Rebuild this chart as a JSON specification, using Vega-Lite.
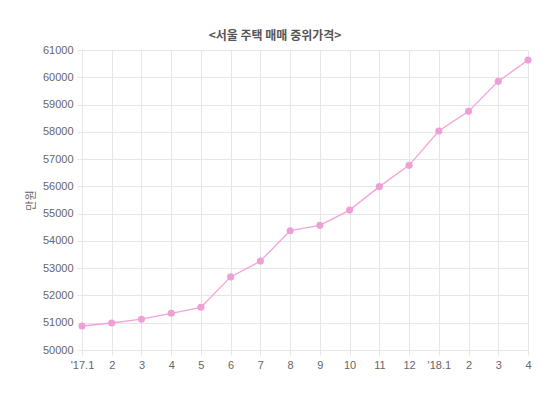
{
  "$schema": "https://vega.github.io/schema/vega-lite/v6.json",
  "width": 446,
  "height": 300,
  "autosize": "none",
  "padding": {"left": 82, "top": 50, "right": 22, "bottom": 45},
  "background": "white",
  "title": {
    "text": "<서울 주택 매매 중위가격>",
    "fontSize": 12,
    "font": "Noto Sans CJK KR",
    "fontWeight": "bold",
    "color": "#555555",
    "offset": 1,
    "dx": -30
  },
  "config": {
    "view": {"stroke": null},
    "axis": {
      "labelFont": "Liberation Sans",
      "labelFontSize": 11,
      "labelColor": "#666666",
      "gridColor": "#e6e6e6",
      "tickColor": "#e6e6e6",
      "domainColor": "#e6e6e6",
      "tickSize": 5
    }
  },
  "data": {
    "values": [
      {"month": "2017-01", "price": 50880},
      {"month": "2017-02", "price": 50990},
      {"month": "2017-03", "price": 51130},
      {"month": "2017-04", "price": 51345},
      {"month": "2017-05", "price": 51566},
      {"month": "2017-06", "price": 52680},
      {"month": "2017-07", "price": 53260},
      {"month": "2017-08", "price": 54375},
      {"month": "2017-09", "price": 54570},
      {"month": "2017-10", "price": 55130},
      {"month": "2017-11", "price": 55990},
      {"month": "2017-12", "price": 56770},
      {"month": "2018-01", "price": 58030},
      {"month": "2018-02", "price": 58750},
      {"month": "2018-03", "price": 59850},
      {"month": "2018-04", "price": 60630}
    ]
  },
  "encoding": {
    "x": {
      "field": "month",
      "type": "ordinal",
      "scale": {"type": "point", "padding": 0},
      "axis": {
        "title": null,
        "labelAngle": 0,
        "grid": true,
        "domain": false,
        "labelPadding": 4,
        "labelExpr": "datum.value == '2017-01' ? \"'17.1\" : datum.value == '2018-01' ? \"'18.1\" : '' + toNumber(substring(datum.value, 5, 7))"
      }
    },
    "y": {
      "field": "price",
      "type": "quantitative",
      "scale": {"domain": [50000, 61000], "nice": false, "zero": false},
      "axis": {
        "title": "만원",
        "titleFont": "Noto Sans CJK KR",
        "titleFontSize": 11,
        "titleFontWeight": "normal",
        "titleColor": "#666666",
        "titlePadding": 6,
        "values": [50000, 51000, 52000, 53000, 54000, 55000, 56000, 57000, 58000, 59000, 60000, 61000],
        "format": "d",
        "grid": true,
        "domain": true,
        "labelPadding": 4
      }
    }
  },
  "layer": [
    {"mark": {"type": "line", "color": "#f4a3d9", "strokeWidth": 1.3}},
    {"mark": {"type": "point", "filled": true, "size": 50, "color": "#ee9fd6", "opacity": 1}}
  ]
}
